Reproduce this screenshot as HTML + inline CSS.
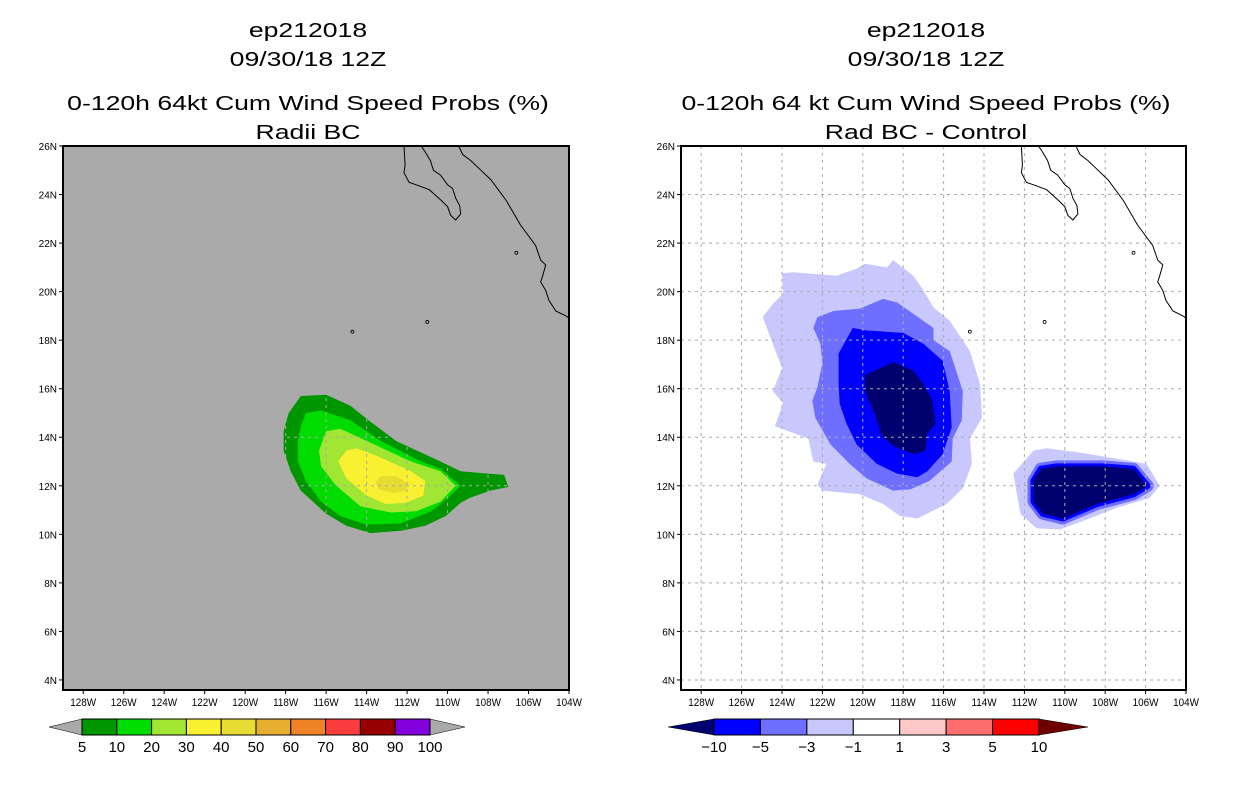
<!DOCTYPE html>
<html><head><meta charset="utf-8"><style>
body{margin:0;background:#fff;width:1236px;height:800px;overflow:hidden;font-family:"Liberation Sans",sans-serif}
svg{position:absolute;left:0;top:0}
</style></head><body>
<svg id="chart" width="1236" height="800" viewBox="0 0 1236 800"></svg>
<script>
// ---- data ----
const lonTicks=[-128,-126,-124,-122,-120,-118,-116,-114,-112,-110,-108,-106,-104];
const latTicks=[26,24,22,20,18,16,14,12,10,8,6,4];
const probLevels=[5,10,20,30,40,50,60,70,80,90,100];
const probColors=["#009600","#00dc00","#a0e632","#faf032","#e6dc32","#e6af2d","#f08228","#fa3c3c","#960000","#8200dc"];
const diffLevels=[-10,-5,-3,-1,1,3,5,10];
const diffColors=["#0000ff","#6e6eff","#c8c8ff","#ffffff","#ffc8c8","#ff6e6e","#ff0000"];
const diffTipColors=["#00006e","#6e0000"];
// left contours [lon,lat]
const prob5=[[-117.25,15.7],[-116,15.75],[-114.8,15.3],[-113.9,14.7],[-112.55,13.85],[-110.35,13],[-109.35,12.6],[-108,12.5],[-107.2,12.45],[-107,11.95],[-107.9,11.8],[-108.9,11.5],[-109.35,11.3],[-110.1,10.75],[-111.1,10.35],[-112.3,10.15],[-113.8,10.05],[-115,10.35],[-116,10.85],[-117.25,11.8],[-117.75,12.6],[-118.1,13.45],[-118.1,14.25],[-117.85,15]];
const prob10=[[-117,15],[-116.25,15.1],[-114.8,14.7],[-113.3,13.85],[-111.3,13],[-110.35,12.7],[-109.35,12],[-109.85,11.6],[-110.8,10.95],[-112.3,10.45],[-114,10.4],[-115.3,10.75],[-116.25,11.35],[-117,12.2],[-117.4,13],[-117.4,13.85],[-117.25,14.45]];
const prob20=[[-116,14.25],[-115.3,14.35],[-114,13.85],[-111.8,13],[-110.35,12.6],[-109.6,12],[-110.35,11.35],[-111.55,10.95],[-112.8,10.9],[-114.3,11.15],[-115.5,12],[-116.25,12.8],[-116.35,13.45]];
const prob30=[[-115,13.45],[-114.5,13.55],[-113.55,13.25],[-111.8,12.6],[-111.1,12.2],[-111.2,11.6],[-112.05,11.3],[-113.05,11.25],[-114,11.6],[-115,12.3],[-115.4,13]];
const prob40=[[-113.3,12.4],[-112.55,12.4],[-111.95,12.1],[-112.05,11.8],[-112.65,11.7],[-113.4,11.85],[-113.55,12.15]];
// right contours
const diffA1=[[-124,20.75],[-123.45,20.8],[-121.3,20.65],[-120.3,20.95],[-119.9,21.15],[-118.8,21],[-118.5,21.3],[-117.5,20.65],[-117,20.05],[-116.5,19.35],[-115.7,18.8],[-114.7,17.55],[-114.2,16.2],[-114.1,14.8],[-114.7,13.95],[-114.6,12.9],[-115.05,11.9],[-115.85,11.25],[-117.3,10.65],[-118.15,10.75],[-119,11.25],[-120.15,11.65],[-122,11.8],[-122.25,12.05],[-121.8,12.9],[-122.45,13],[-122.7,13.95],[-124.35,14.45],[-123.95,15.4],[-124.45,15.9],[-124,16.85],[-124.95,18.95],[-124.45,19.5],[-123.95,19.9]];
const diffA3=[[-122.45,18.5],[-122.25,18.95],[-121.45,19.2],[-120.15,19.3],[-119,19.7],[-118.3,19.55],[-116.5,18.5],[-116.5,18],[-115.7,17.55],[-115.05,15.9],[-115.1,14.7],[-115.55,13.95],[-115.6,13],[-116.7,12.2],[-117.65,11.85],[-118.5,11.8],[-119.8,12.3],[-120.65,12.9],[-121.6,13.7],[-122.35,14.8],[-122.5,15.5],[-122.25,16.05],[-122,17.05],[-122.1,17.85]];
const diffA5=[[-121.2,17.45],[-120.5,18.5],[-119.8,18.4],[-118,18.3],[-117,17.85],[-116.05,17.15],[-115.7,15.9],[-115.6,14.4],[-116.05,13.3],[-116.8,12.6],[-117.3,12.35],[-118.3,12.5],[-119.3,12.9],[-120.3,13.7],[-120.8,14.55],[-121.15,15.4],[-121.2,16.2]];
const diffA10=[[-119.9,16.55],[-118.5,17.1],[-117.5,16.75],[-117,16.2],[-116.55,15.5],[-116.4,14.55],[-116.8,14.15],[-116.9,13.45],[-117.5,13.3],[-118.5,13.65],[-119.05,14.05],[-119.4,14.95],[-119.9,15.9]];
const diffB1=[[-112.55,12.5],[-111.55,13.45],[-110.9,13.55],[-109.1,13.35],[-106.6,13],[-105.95,12.9],[-105.3,12],[-105.8,11.5],[-107.4,11.1],[-109.1,10.55],[-110.25,10.2],[-111.4,10.25],[-112.2,10.85]];
const diffB10=[[-111.55,12.2],[-111.2,12.7],[-110.4,12.8],[-108.1,12.8],[-106.6,12.7],[-105.9,12],[-106.6,11.65],[-108.4,11.25],[-110.1,10.65],[-111.1,10.85],[-111.55,11.35]];
const coastBaja=[[-112.15,26],[-112.1,25.2],[-112.15,24.9],[-111.9,24.5],[-111.55,24.4],[-110.9,24.2],[-110.3,23.75],[-110,23.5],[-109.85,23.15],[-109.6,22.95],[-109.35,23.2],[-109.4,23.55],[-109.6,23.85],[-109.75,24.25],[-110,24.4],[-110.35,24.8],[-110.7,25],[-110.85,25.4],[-111.1,25.75],[-111.3,26]];
const coastMain=[[-109.45,26],[-109.25,25.65],[-108.85,25.4],[-108.35,25],[-107.85,24.6],[-107.1,23.75],[-106.4,22.75],[-105.65,21.9],[-105.4,21.3],[-105.15,21.1],[-105.3,20.65],[-105.4,20.4],[-105.15,20.05],[-105,19.65],[-104.65,19.2],[-104.15,19],[-104,18.9]];
const islands=[[-111,18.75],[-114.7,18.35],[-106.6,21.6]];

const NS='http://www.w3.org/2000/svg';
const svg=document.getElementById('chart');
function mk(tag,attrs,parent){const e=document.createElementNS(NS,tag);for(const k in attrs)e.setAttribute(k,attrs[k]);(parent||svg).appendChild(e);return e;}
function txt(x,y,s,size,anchor,parent){const t=mk('text',{x:x,y:y,'font-size':size,'text-anchor':anchor||'middle',fill:'#000','font-family':'Liberation Sans, sans-serif'},parent);t.textContent=s;return t;}

function panel(x0,x1,bg,name){
  const y0=146,y1=690;
  const lonMin=-129,lonMax=-104,latTop=26,pxLat=24.27;
  const px=lon=>x0+(lon-lonMin)/(lonMax-lonMin)*(x1-x0);
  const py=lat=>y0+(latTop-lat)*pxLat;
  const g=mk('g',{});
  
  
  const clipId='clip'+x0;
  const cp=mk('clipPath',{id:clipId},g);mk('rect',{x:x0,y:y0,width:x1-x0,height:y1-y0},cp);
  const bgR=mk('rect',{x:x0,y:y0,width:x1-x0,height:y1-y0,fill:bg},g);
  
  
  const inner=mk('g',{'clip-path':'url(#'+clipId+')'},g);
  const pts=a=>a.map(p=>px(p[0]).toFixed(1)+','+py(p[1]).toFixed(1)).join(' ');
  return {g,inner,px,py,pts,x0,x1,y0,y1};
}
function poly(P,arr,fill,name,extra){const e=mk('polygon',Object.assign({points:P.pts(arr),fill:fill},extra||{}),P.inner);return e;}
function finish(P,gridColor){
  lonTicks.forEach(l=>{const x=P.px(l);const ln=mk('line',{x1:x,x2:x,y1:P.y0,y2:P.y1,stroke:gridColor,'stroke-width':1,'stroke-dasharray':'3,4'},P.inner);});
  latTicks.forEach(l=>{const y=P.py(l);const ln=mk('line',{x1:P.x0,x2:P.x1,y1:y,y2:y,stroke:gridColor,'stroke-width':1,'stroke-dasharray':'3,4'},P.inner);});
  [coastBaja,coastMain].forEach(c=>{const e=mk('polyline',{points:P.pts(c),fill:'none',stroke:'#000','stroke-width':1},P.inner);});
  islands.forEach(p=>{const e=mk('circle',{cx:P.px(p[0]),cy:P.py(p[1]),r:1.5,fill:'none',stroke:'#000','stroke-width':0.8},P.inner);});
  const fr=mk('rect',{x:P.x0,y:P.y0,width:P.x1-P.x0,height:P.y1-P.y0,fill:'none',stroke:'#000','stroke-width':2},P.g);
  
  lonTicks.forEach(l=>{const x=P.px(l);mk('line',{x1:x,x2:x,y1:P.y1,y2:P.y1+4,stroke:'#000'},P.g);const t=txt(x,P.y1+16,Math.abs(l)+'W',11,'middle',P.g);t.setAttribute('transform','translate('+x+',0) scale(0.9,1) translate('+(-x)+',0)');});
  latTicks.forEach(l=>{const y=P.py(l);mk('line',{x1:P.x0-4,x2:P.x0,y1:y,y2:y,stroke:'#000'},P.g);const t=txt(P.x0-6,y+4,l+'N',10,'end',P.g);});
}
function titles(cx,lines){lines.forEach((s,i)=>{const t=txt(cx,[37,66,110,139][i],s,20);t.setAttribute('transform','translate('+cx+',0) scale(1.33,1) translate('+(-cx)+',0)');});}

// LEFT
const L=panel(63,569,'#aaaaaa','left-map');
poly(L,prob5,probColors[0],'contour-5pct');
poly(L,prob10,probColors[1],'contour-10pct');
poly(L,prob20,probColors[2],'contour-20pct');
poly(L,prob30,probColors[3],'contour-30pct');
poly(L,prob40,probColors[4],'contour-40pct');
finish(L,'#aaaaaa');
titles(308,['ep212018','09/30/18 12Z','0-120h 64kt Cum Wind Speed Probs (%)','Radii BC']);

// RIGHT
const R=panel(681,1186,'#ffffff','right-map');
poly(R,diffA1,diffColors[2],'diff-contour-minus1');
poly(R,diffA3,diffColors[1],'diff-contour-minus3');
poly(R,diffA5,diffColors[0],'diff-contour-minus5');
poly(R,diffA10,diffTipColors[0],'diff-contour-minus10');
poly(R,diffB1,diffColors[2],'diff-contour-minus1-east');
poly(R,diffB10,diffColors[1],'diff-contour-minus3-east',{stroke:diffColors[1],'stroke-width':12,'stroke-linejoin':'round'});
poly(R,diffB10,diffColors[0],'diff-contour-minus5-east',{stroke:diffColors[0],'stroke-width':6,'stroke-linejoin':'round'});
poly(R,diffB10,diffTipColors[0],'diff-contour-minus10-east');
finish(R,'#aaaaaa');
titles(926,['ep212018','09/30/18 12Z','0-120h 64 kt Cum Wind Speed Probs (%)','Rad BC - Control']);

// colorbars
function colorbar(xa,xb,tipL,tipR,colors,tipColors,labels,name){
  const g=mk('g',{});
  const y0=719,y1=735,ym=727,n=colors.length,w=(xb-xa)/n;
  mk('polygon',{points:`${tipL},${ym} ${xa},${y0} ${xa},${y1}`,fill:tipColors[0],stroke:'#000','stroke-width':0.5},g);
  mk('polygon',{points:`${tipR},${ym} ${xb},${y0} ${xb},${y1}`,fill:tipColors[1],stroke:'#000','stroke-width':0.5},g);
  colors.forEach((c,i)=>{const r=mk('rect',{x:xa+i*w,y:y0,width:w,height:y1-y0,fill:c,stroke:'#000','stroke-width':1},g);});
  labels.forEach((l,i)=>{const t=txt(xa+i*w,752,String(l).replace('-','\u2212'),15,'middle',g);});
}
colorbar(82,430,49,465,probColors,['#aaaaaa','#aaaaaa'],probLevels,'prob-colorbar');
colorbar(714,1039,668,1088,diffColors,diffTipColors,diffLevels,'diff-colorbar');
</script>
</body></html>
